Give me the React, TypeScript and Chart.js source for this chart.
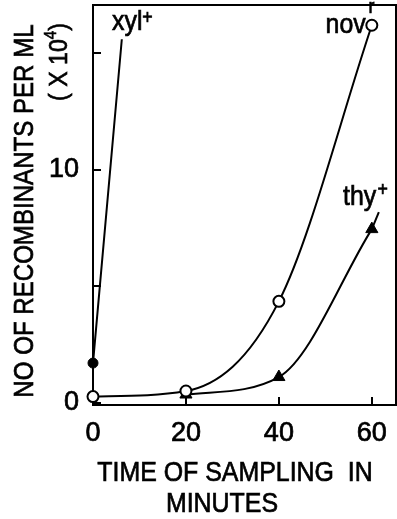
import { useEffect, useRef } from 'react';
import { Chart, registerables } from 'chart.js';

Chart.register(...registerables);

const FONT = "'Liberation Sans', Arial, sans-serif";
const NARROW = 0.89;
const STROKE = 0.7;

// axis ticks
const xTicks = [0, 20, 40, 60];
const yTicks = [0, 5, 10, 15];
const yTickLabels: Record<number, string> = { 0: '0', 10: '10' };

// series (minutes, recombinants per ml x 10^4)
const novMinutes = [0, 20, 40, 60];
const novValues = [0.26, 0.5, 4.35, 16.2];
const thyMinutes = [20, 40, 60];
const thyValues = [0.35, 1.1, 7.45];
const xylMinutes = [0, 0, 6.2];
const xylValues = [0.26, 1.7, 15.6];

const toPts = (xs: number[], ys: number[]) => xs.map((x, i) => ({ x, y: ys[i] }));

// draws horizontally condensed text (the original uses a narrow face)
function txt(
  ctx: CanvasRenderingContext2D,
  s: string,
  x: number,
  y: number,
  size: number,
  align: CanvasTextAlign = 'left',
  baseline: CanvasTextBaseline = 'alphabetic',
  rot = 0,
  narrow = NARROW,
) {
  ctx.save();
  ctx.translate(x, y);
  if (rot) ctx.rotate(rot);
  ctx.scale(narrow, 1);
  ctx.font = `${size}px ${FONT}`;
  ctx.textAlign = align;
  ctx.textBaseline = baseline;
  ctx.lineWidth = STROKE;
  ctx.fillText(s, 0, 0);
  ctx.strokeText(s, 0, 0);
  ctx.restore();
}

const annot = {
  id: 'annot',
  beforeDatasetsDraw(chart: any) {
    const { ctx, chartArea: a } = chart;
    ctx.save();
    ctx.strokeStyle = '#000';
    ctx.lineWidth = 2;
    ctx.beginPath();
    ctx.moveTo(a.left - 1, a.top);
    ctx.lineTo(a.right, a.top);
    ctx.lineTo(a.right, a.bottom + 1);
    ctx.stroke();
    ctx.restore();
  },
  afterDraw(chart: any) {
    const { ctx, chartArea: a } = chart;
    const X = (v: number) => chart.scales.x.getPixelForValue(v);
    const Y = (v: number) => chart.scales.y.getPixelForValue(v);
    ctx.save();
    ctx.fillStyle = '#000';
    ctx.strokeStyle = '#000';

    // series labels
    txt(ctx, 'xyl', X(4.1), Y(16.0), 28);
    txt(ctx, '+', X(10.6), Y(16.27), 20);

    txt(ctx, 'nov', X(58.7), Y(15.85), 28, 'right');
    txt(ctx, 'r', X(59.3), Y(16.73), 20);

    txt(ctx, 'thy', X(53.8), Y(8.49), 28);
    txt(ctx, '+', X(61.2), Y(8.89), 20);

    // leader from thy+ label to last point
    const lx = X(thyMinutes[thyMinutes.length - 1]);
    const ly = Y(thyValues[thyValues.length - 1]);
    ctx.lineWidth = 2;
    ctx.beginPath();
    ctx.moveTo(lx, ly);
    ctx.lineTo(lx + 7, ly - 17);
    ctx.stroke();

    // y axis title
    txt(ctx, 'NO OF RECOMBINANTS PER ML', 25, (a.top + a.bottom) / 2 + 6, 28, 'center', 'middle', -Math.PI / 2, 0.86);

    ctx.save();
    ctx.translate(60, 62);
    ctx.rotate(-Math.PI / 2);
    ctx.scale(NARROW, 1);
    ctx.textAlign = 'left';
    ctx.textBaseline = 'middle';
    ctx.lineWidth = STROKE;
    ctx.font = `26px ${FONT}`;
    const p1 = '( X 10';
    const p3 = ')';
    const w1 = ctx.measureText(p1).width;
    const w3 = ctx.measureText(p3).width;
    ctx.font = `17px ${FONT}`;
    const w2 = ctx.measureText('4').width;
    let sx = -(w1 + w2 + w3) / 2;
    ctx.font = `26px ${FONT}`;
    ctx.fillText(p1, sx, 0);
    ctx.strokeText(p1, sx, 0);
    sx += w1;
    ctx.font = `17px ${FONT}`;
    ctx.fillText('4', sx, -9);
    ctx.strokeText('4', sx, -9);
    sx += w2;
    ctx.font = `26px ${FONT}`;
    ctx.fillText(p3, sx, 0);
    ctx.strokeText(p3, sx, 0);
    ctx.restore();

    // x axis title
    txt(ctx, 'TIME OF SAMPLING  IN', 235, 473, 28, 'center', 'middle');
    txt(ctx, 'MINUTES', 222, 504, 28, 'center', 'middle');
    ctx.restore();
  },
};

export default function App() {
  const ref = useRef<HTMLCanvasElement | null>(null);
  useEffect(() => {
    const canvas = ref.current;
    if (!canvas) return;
    const tickFont = { family: FONT, size: 27 };
    const zeroPad = (s: any) => {
      s.paddingTop = 0;
      s.paddingBottom = 0;
      s.paddingLeft = 0;
      s.paddingRight = 0;
    };
    const tickText = { textStrokeColor: '#000', textStrokeWidth: STROKE };
    const chart = new Chart(canvas, {
      type: 'line',
      data: {
        datasets: [
          {
            label: 'nov',
            data: toPts(novMinutes, novValues),
            borderColor: '#000',
            borderWidth: 2,
            pointStyle: 'circle',
            pointRadius: 5.5,
            pointBorderWidth: 2,
            pointBackgroundColor: '#fff',
            pointBorderColor: '#000',
            cubicInterpolationMode: 'monotone',
            clip: false,
          } as any,
          {
            label: 'thy',
            data: toPts(thyMinutes, thyValues),
            borderColor: '#000',
            borderWidth: 2,
            pointStyle: 'triangle',
            pointRadius: 7,
            pointBorderWidth: 1,
            pointBackgroundColor: '#000',
            pointBorderColor: '#000',
            cubicInterpolationMode: 'monotone',
            clip: false,
          } as any,
          {
            label: 'xyl',
            data: toPts(xylMinutes, xylValues),
            borderColor: '#000',
            borderWidth: 2,
            pointStyle: 'circle',
            pointRadius: [0, 5, 0],
            pointBorderWidth: 1,
            pointBackgroundColor: '#000',
            pointBorderColor: '#000',
            tension: 0,
            clip: false,
          } as any,
        ],
      },
      options: {
        animation: false,
        responsive: false,
        devicePixelRatio: 1,
        layout: { autoPadding: false, padding: { top: 5, right: 1, left: 0, bottom: 0 } },
        plugins: { legend: { display: false }, tooltip: { enabled: false } },
        events: [],
        scales: {
          x: {
            type: 'linear',
            min: 0,
            max: 65.2,
            afterBuildTicks: (s: any) => {
              s.ticks = xTicks.map((v) => ({ value: v }));
            },
            afterFit: (s: any) => {
              s.height = 114;
              zeroPad(s);
            },
            ticks: { font: tickFont, color: '#000', padding: 20, maxRotation: 0, autoSkip: false, ...tickText },
            grid: { display: true, drawOnChartArea: false, drawTicks: true, tickLength: -8, color: '#000', lineWidth: 2 },
            border: { display: true, color: '#000', width: 2 },
          },
          y: {
            type: 'linear',
            min: -0.1,
            max: 17.07,
            afterBuildTicks: (s: any) => {
              s.ticks = yTicks.map((v) => ({ value: v }));
            },
            afterFit: (s: any) => {
              s.width = 93;
              zeroPad(s);
            },
            ticks: {
              font: tickFont,
              color: '#000',
              padding: 22,
              autoSkip: false,
              ...tickText,
              callback: (v: any) => yTickLabels[v as number] ?? '',
            },
            grid: { display: true, drawOnChartArea: false, drawTicks: true, tickLength: -8, color: '#000', lineWidth: 2 },
            border: { display: true, color: '#000', width: 2 },
          },
        },
      } as any,
      plugins: [annot],
    });
    return () => chart.destroy();
  }, []);
  return (
    <div style={{ position: 'fixed', left: 0, top: 0, width: 397, height: 519, background: '#fff' }}>
      <canvas ref={ref} width={397} height={519} style={{ width: 397, height: 519, display: 'block' }} />
    </div>
  );
}
